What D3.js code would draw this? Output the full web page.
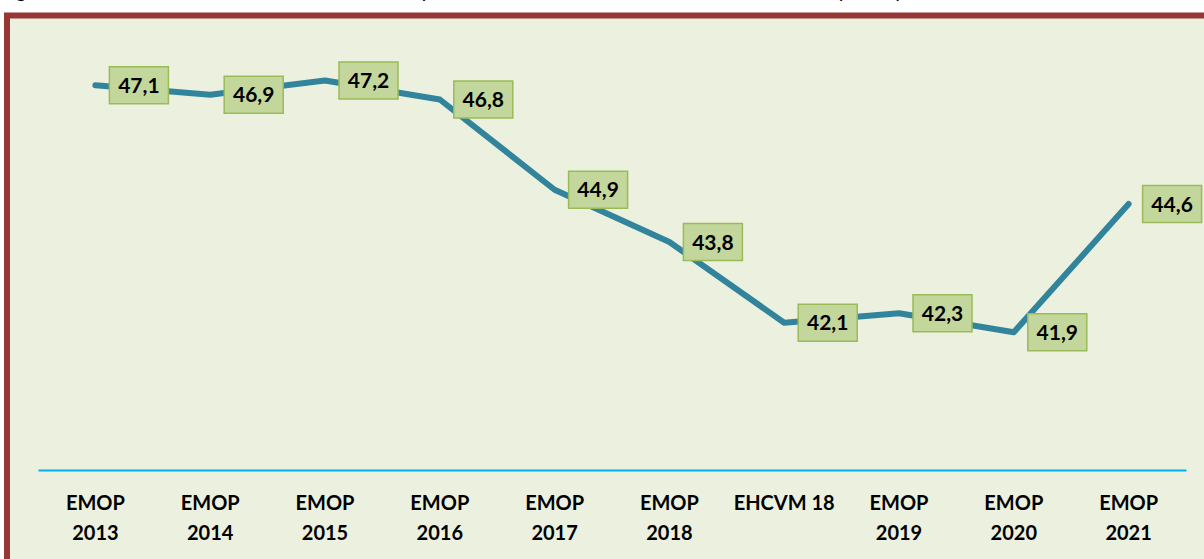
<!DOCTYPE html>
<html>
<head>
<meta charset="utf-8">
<script src="https://cdn.jsdelivr.net/npm/d3@7"></script>
<style>
  html, body { margin: 0; padding: 0; background: #fff; overflow: hidden; }
  text { font-family: Lato, "Open Sans", sans-serif; }
</style>
</head>
<body>
<div id="chart"></div>
<script>
// survey labels (line breaks on \n)
const categories = ["EMOP\n2013", "EMOP\n2014", "EMOP\n2015", "EMOP\n2016", "EMOP\n2017",
  "EMOP\n2018", "EHCVM 18", "EMOP\n2019", "EMOP\n2020", "EMOP\n2021"];
// poverty incidence (%)
const values = [47.1, 46.9, 47.2, 46.8, 44.9, 43.8, 42.1, 42.3, 41.9, 44.6];
const valueLabels = ["47,1", "46,9", "47,2", "46,8", "44,9", "43,8", "42,1", "42,3", "41,9", "44,6"];

const width = 1204, height = 559;

const svg = d3.select('#chart').append('svg')
  .attr('width', width)
  .attr('height', height);

// caption, mostly cut off above the frame
svg.append('text')
  .attr('x', -6)
  .attr('y', -3)
  .attr('textLength', 909)
  .attr('lengthAdjust', 'spacing')
  .style('font-family', 'Arial, "Liberation Sans", sans-serif')
  .style('font-size', '20px')
  .call(t => {
    t.append('tspan').style('font-weight', 'bold').text('Figure 1 : ');
    t.append('tspan').text("Evolution de l'incidence de la pauvreté monétaire entre 2013 et 2021 (en %)");
  });

// frame
svg.append('rect')
  .attr('x', 7)
  .attr('y', 15.5)
  .attr('width', 1300)
  .attr('height', 700)
  .attr('fill', '#EBF1DE')
  .attr('stroke', '#953735')
  .attr('stroke-width', 6);

// scales
const x = d3.scaleBand()
  .domain(categories)
  .range([38, 1186]);

const y = d3.scaleLinear()
  .domain([39, 48])
  .range([470, 42.5]);

// bottom axis
const axis = svg.append('g')
  .attr('transform', 'translate(0,470)')
  .call(d3.axisBottom(x).tickSize(0).tickFormat(''));

axis.select('.domain')
  .attr('stroke', '#00B0F0')
  .attr('stroke-width', 2);

axis.selectAll('.tick').each(function (d) {
  const lines = d.split('\n');
  const t = d3.select(this).append('text')
    .attr('fill', '#000')
    .attr('text-anchor', 'middle')
    .style('font-size', '20px')
    .style('font-weight', 'bold');
  lines.forEach((l, i) => {
    t.append('tspan')
      .attr('x', 0)
      .attr('y', 40 + i * 30)
      .text(l);
  });
});

// the line
const line = d3.line()
  .x((d, i) => x(categories[i]) + x.bandwidth() / 2)
  .y(d => y(d));

svg.append('path')
  .datum(values)
  .attr('d', line)
  .attr('fill', 'none')
  .attr('stroke', '#31849B')
  .attr('stroke-width', 6)
  .attr('stroke-linecap', 'round')
  .attr('stroke-linejoin', 'round');

// data labels, placed to the right of each point
const labels = svg.append('g')
  .selectAll('g')
  .data(values)
  .join('g')
  .attr('transform', (d, i) => `translate(${x(categories[i]) + x.bandwidth() / 2 + 14},${y(d)})`);

labels.append('rect')
  .attr('x', 0)
  .attr('y', -18.5)
  .attr('width', 59)
  .attr('height', 37)
  .attr('fill', '#C3D69B')
  .attr('stroke', '#9BBB59')
  .attr('stroke-width', 1.5);

labels.append('text')
  .attr('x', 29.5)
  .attr('y', 7.5)
  .attr('text-anchor', 'middle')
  .style('font-size', '21px')
  .style('font-weight', 'bold')
  .text((d, i) => valueLabels[i]);
</script>
</body>
</html>
